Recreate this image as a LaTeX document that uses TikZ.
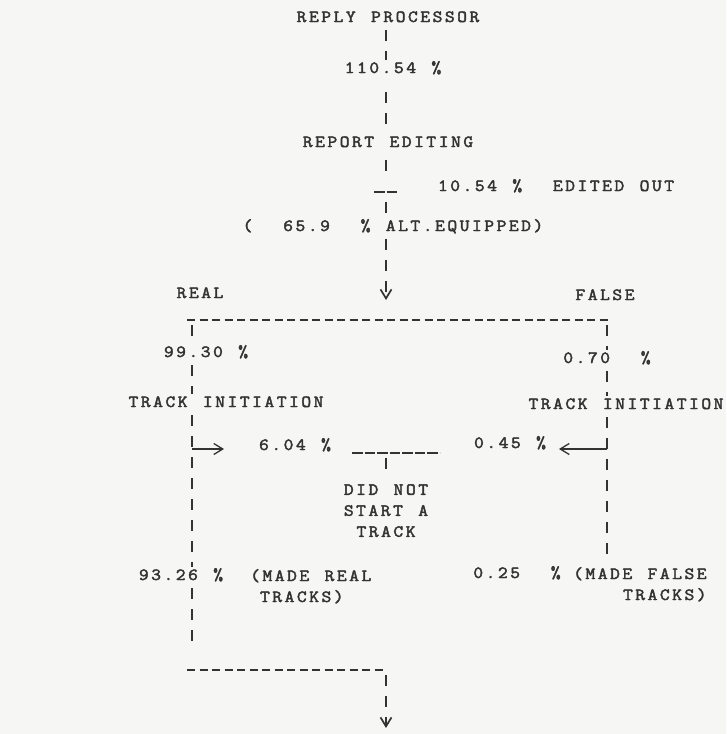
\documentclass[tikz,border=0pt]{standalone}
\usepackage{fontspec}
\setmonofont[FakeStretch=1.12,LetterSpace=14.7,WordSpace={1.25,0,0},FakeBold=2.5]{Latin Modern Mono}
\usetikzlibrary{arrows.meta}
\definecolor{ink}{HTML}{333333}
\definecolor{paper}{HTML}{F6F6F4}
\tikzset{
  lbl/.style={font=\ttfamily\fontsize{17}{21}\selectfont, text=ink, inner sep=3pt, text height=10pt, text depth=0pt},
  note/.style={font=\ttfamily\fontsize{17}{21}\selectfont, text=ink, inner sep=3pt},
  bar/.style={draw=ink, line width=1.7pt, dash pattern=on 11pt off 10pt, dash phase=16pt},
  hyph/.style={draw=ink, line width=1.3pt, dash pattern=on 8pt off 4.5pt},
  under/.style={draw=ink, line width=1.3pt, dash pattern=on 10.5pt off 2pt},
  tip/.style={-{Straight Barb[length=9pt,width=11pt]}}
}
\begin{document}
\begin{tikzpicture}[x=1pt,y=-1pt]
    % Fondo
    \fill[paper] (0,0) rectangle (726,734);
    \useasboundingbox (0,0) rectangle (726,734);

    % Columnas
    \coordinate (mid) at (386,0);
    \coordinate (lcol) at (192,0);
    \coordinate (rcol) at (607,0);

    % Textos
    \node[lbl] (proc) at (388,17) {REPLY PROCESSOR};
    \node[lbl] (p110) at (393,68) {110.54 \%};
    \node[lbl] (edit) at (388,142) {REPORT EDITING};
    \node[lbl] (out) at (556,186) {10.54 \%~~EDITED OUT};
    \node[lbl] (alt) at (393,226) {(~~65.9~~\%~ALT.EQUIPPED)};
    \node[lbl] (real) at (200,293) {REAL};
    \node[lbl] (false) at (605,295) {FALSE};
    \node[lbl] (p9930) at (206,352) {99.30 \%};
    \node[lbl] (p070) at (607,358) {0.70~~\%};
    \node[lbl] (tiL) at (226,402) {TRACK INITIATION};
    \node[lbl] (tiR) at (626,404) {TRACK INITIATION};
    \node[lbl] (p604) at (295,445) {6.04 \%};
    \node[lbl] (p045) at (510,443) {0.45 \%};
    \node[note, anchor=north, align=center] (dnst) at (386,481) {DID NOT\\START A\\TRACK};
    \node[lbl] (p9326) at (181,575) {93.26 \%};
    \node[note, anchor=north west, align=left] (madeR) at (247,566) {(MADE REAL\\\phantom{(}TRACKS)};
    \node[lbl] (p025) at (517,573) {0.25~~\%};
    \node[note, anchor=north west, align=right] (madeF) at (570,564) {(MADE FALSE\\TRACKS)};

    % Tronco central
    \draw[bar] (proc.south -| mid) -- (p110.north -| mid);
    \draw[bar, shorten <=11pt] (p110.south -| mid) -- (edit.north -| mid);
    \coordinate (cut) at (386,192);
    \draw[bar, dash phase=11pt, shorten >=11pt] (edit.south -| mid) -- (cut);
    \draw[bar, dash phase=11pt] (cut) -- (alt.north -| mid);
    \draw[under] ([xshift=-12pt]cut) -- ([xshift=11pt]cut);
    \coordinate (vtip) at (386,300);
    \draw[bar, tip] (alt.south -| mid) -- (vtip);

    % Reparto real / falso
    \coordinate (barL) at (187,320);
    \coordinate (barR) at (610,320);
    \draw[hyph] (barL) -- (barR);

    % Rama real
    \draw[bar] (barL -| lcol) -- (p9930.north -| lcol);
    \draw[bar] (p9930.south -| lcol) -- (tiL.north -| lcol);
    \coordinate (lend) at (192,645);
    \draw[bar] (tiL.south -| lcol) -- (p9326.north -| lcol);
    \draw[bar] (p9326.south -| lcol) -- (lend);
    \coordinate (hook) at (192,449);
    \draw[draw=ink, line width=1.3pt, tip] (hook) -- (hook -| 224,0);

    % Rama falsa
    \draw[bar] (barR -| rcol) -- (p070.north -| rcol);
    \draw[bar] (p070.south -| rcol) -- (tiR.north -| rcol);
    \draw[bar] (tiR.south -| rcol) -- (madeF.north -| rcol);
    \draw[draw=ink, line width=1.3pt, tip] (hook -| rcol) -- (hook -| 559,0);

    % No iniciadas
    \coordinate (jl) at (352,453);
    \coordinate (jr) at (439.5,453);
    \draw[under] (jl) -- (jr);
    \draw[bar, shorten >=6pt] (jl -| mid) -- (dnst.north);

    % Salida
    \coordinate (botL) at (187,670);
    \coordinate (botR) at (383.5,670);
    \coordinate (exit) at (386,728);
    \draw[hyph] (botL) -- (botR);
    \draw[bar, tip] (botR -| mid) -- (exit);
\end{tikzpicture}
\end{document}
